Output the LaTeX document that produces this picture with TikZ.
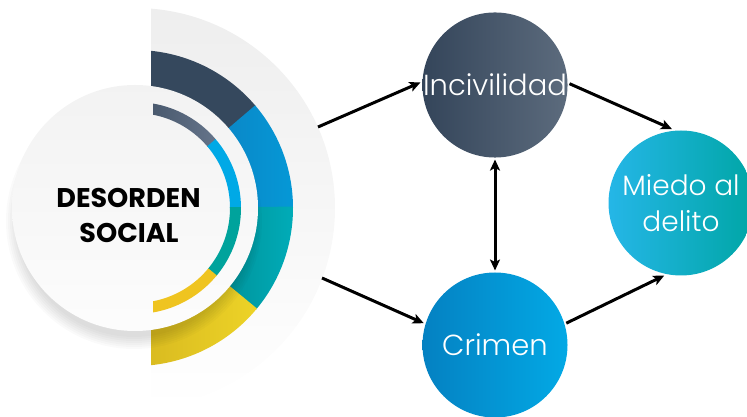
\documentclass[tikz,border=0pt]{standalone}
\usepackage{fontspec}
\setmainfont{Poppins}
\newfontfamily\lightfont{Poppins Light}
\usetikzlibrary{arrows.meta}
\definecolor{bggray}{HTML}{EEEEEE}
\definecolor{navyO}{HTML}{35485D}
\definecolor{blueOa}{HTML}{0A88C8}
\definecolor{blueOb}{HTML}{0598D6}
\definecolor{tealOa}{HTML}{00949C}
\definecolor{tealOb}{HTML}{00ACB8}
\definecolor{yelOa}{HTML}{D2B21E}
\definecolor{yelOb}{HTML}{EDD327}
\definecolor{grayIa}{HTML}{3A4A5E}
\definecolor{grayIb}{HTML}{65748A}
\definecolor{blueI}{HTML}{00A9E6}
\definecolor{tealI}{HTML}{00A39C}
\definecolor{yelI}{HTML}{EFC420}
\definecolor{incA}{HTML}{34455A}
\definecolor{incB}{HTML}{5C6B7D}
\definecolor{criA}{HTML}{0481C2}
\definecolor{criB}{HTML}{03A9E5}
\definecolor{mieA}{HTML}{25B6E7}
\definecolor{mieB}{HTML}{00A6A6}
\newcommand{\ringseg}[5]{%
  \path[#1] ([shift={(135,209)}]#2:#5) arc[start angle=#2,end angle=#3,radius=#5]
    -- ([shift={(135,209)}]#3:#4) arc[start angle=#3,end angle=#2,radius=#4] -- cycle;}
\tikzset{
  bubble/.style={circle, minimum size=145pt, inner sep=0pt, outer sep=2pt,
    text=white, align=center},
  conn/.style={line width=3pt, -{Stealth[length=11pt,width=10pt,inset=2.5pt]}},
  dconn/.style={line width=3pt, {Stealth[length=11pt,width=10pt,inset=2.5pt]}-{Stealth[length=11pt,width=10pt,inset=2.5pt]}},
  title/.style={font=\fontsize{27}{27}\selectfont\bfseries, text=black, anchor=base, inner sep=0pt}
}
\begin{document}
\begin{tikzpicture}[x=1pt,y=1pt]
\useasboundingbox (0,0) rectangle (747,417);
% light grey half disk
\begin{scope}
  \clip (151,0) rectangle (747,417);
  \shade[top color=bggray, bottom color=white] (135,209) circle[radius=200];
  % outer ring
  \ringseg{fill=navyO}{40}{100}{120}{158}
  \ringseg{left color=blueOa,right color=blueOb}{0}{40.5}{120}{158}
  \ringseg{left color=tealOa,right color=tealOb}{-40}{0.5}{120}{158}
  \ringseg{left color=yelOa,right color=yelOb}{-100}{-39.5}{120}{158}
\end{scope}
% soft shadow of the white disk
\foreach \r in {116,118,...,128}
  \fill[black,opacity=0.02] (134,196) circle[radius=\r];
% white disk
\shade[top color=black!5, bottom color=black!1] (135,209) circle[radius=123];
% inner ring
\begin{scope}
  \clip (153,0) rectangle (747,417);
  \ringseg{left color=grayIa,right color=grayIb}{40}{100}{95}{106}
  \ringseg{fill=blueI}{0}{40.5}{95}{106}
  \ringseg{fill=tealI}{-40}{0.5}{95}{106}
  \ringseg{fill=yelI}{-100}{-39.5}{95}{106}
\end{scope}
% title
\node[title] (t1) at (128.5,209) {DESORDEN};
\node[title] (t2) at (129,174) {SOCIAL};
% bubbles
\node[bubble, left color=incA, right color=incB, font=\lightfont\fontsize{29}{29}\selectfont] (inc) at (495,332) {Incivilidad};
\node[bubble, left color=criA, right color=criB, font=\lightfont\fontsize{29}{29}\selectfont] (cri) at (495,72) {Crimen};
\node[bubble, left color=mieA, right color=mieB, font=\lightfont\fontsize{28}{36}\selectfont] (mie) at (681,214) {Miedo al\\delito};
% connectors
\coordinate (s1) at (318,290);
\coordinate (s2) at (322,139);
\draw[conn] (s1) -- (inc.178);
\draw[conn] (s2) -- (cri.163);
\draw[conn] (inc.1) -- (mie.97);
\draw[conn] (cri.17) -- (mie.257);
\draw[dconn] (inc.south) -- (cri.north);
\end{tikzpicture}
\end{document}
